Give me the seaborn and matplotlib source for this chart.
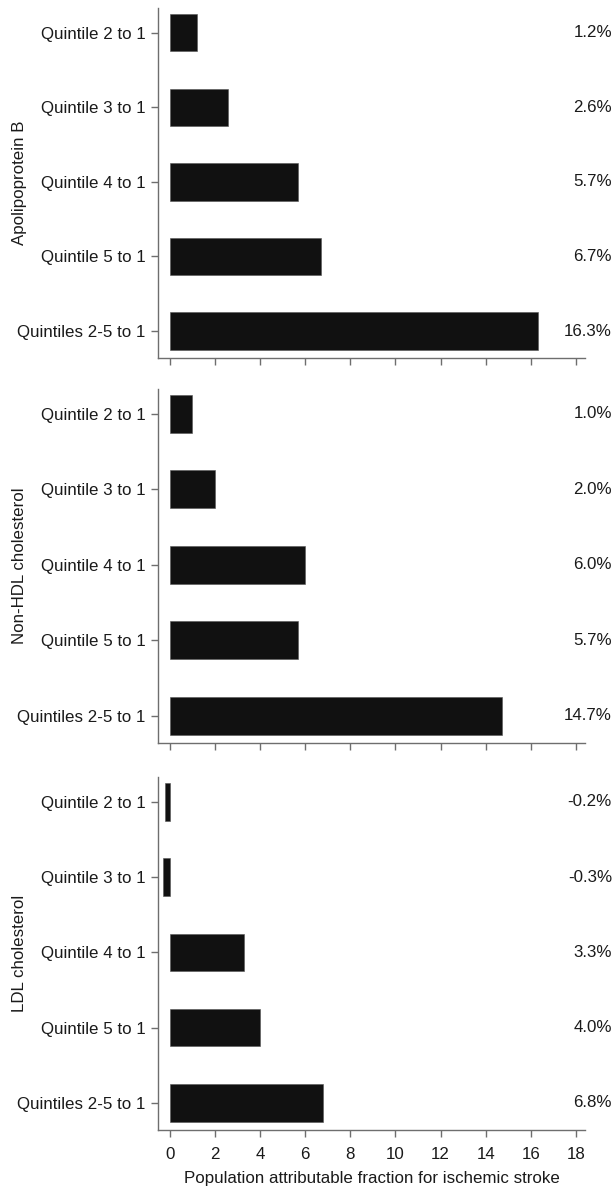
import matplotlib
matplotlib.use("Agg")
import matplotlib.pyplot as plt
import seaborn as sns
import pandas as pd

categories = ["Quintile 2 to 1", "Quintile 3 to 1", "Quintile 4 to 1",
              "Quintile 5 to 1", "Quintiles 2-5 to 1"]
apob_paf = [1.2, 2.6, 5.7, 6.7, 16.3]
nonhdl_paf = [1.0, 2.0, 6.0, 5.7, 14.7]
ldl_paf = [-0.2, -0.3, 3.3, 4.0, 6.8]
panel_names = ["Apolipoprotein B", "Non-HDL cholesterol", "LDL cholesterol"]
x_ticks = [0, 2, 4, 6, 8, 10, 12, 14, 16, 18]
x_title = "Population attributable fraction for ischemic stroke"

sns.set_theme(style="ticks")
plt.rcParams["font.family"] = ["Liberation Sans", "DejaVu Sans"]
plt.rcParams["text.color"] = "#1a1a1a"

fs = 12.2
fig = plt.figure(figsize=(6.16, 11.92), dpi=100)
left, right = 0.257, 0.950
panel_box = [(0.6997, 0.9933), (0.3767, 0.6737), (0.052, 0.3482)]

series = [apob_paf, nonhdl_paf, ldl_paf]
axes_line = "#6e6e6e"

for i, (name, vals, (bot, top)) in enumerate(zip(panel_names, series, panel_box)):
    ax = fig.add_axes([left, bot, right - left, top - bot])
    df = pd.DataFrame({"category": categories, "paf": vals})
    sns.barplot(data=df, x="paf", y="category", ax=ax, color="#111111",
                saturation=1, width=0.5, edgecolor="#555555", linewidth=0.4,
                orient="h")
    ax.set_xlim(-0.5, 18.4)
    ax.set_ylim(4.36, -0.33)
    ax.set_xticks(x_ticks)
    sns.despine(ax=ax)
    for side in ("left", "bottom"):
        ax.spines[side].set_color(axes_line)
        ax.spines[side].set_linewidth(1.0)
    ax.tick_params(axis="both", colors=axes_line, length=5, width=1.0,
                   labelcolor="#1a1a1a", labelsize=fs)
    ax.tick_params(axis="y", pad=4)
    ax.tick_params(axis="x", pad=7)
    ax.set_ylabel(name, fontsize=fs, color="#1a1a1a")
    ax.yaxis.set_label_coords(-0.308, 0.5)
    if i < 2:
        ax.set_xlabel("")
        ax.set_xticklabels([])
    else:
        ax.set_xlabel(x_title, fontsize=fs, color="#1a1a1a", labelpad=7)
    for yi, v in enumerate(vals):
        ax.text(1.0626, yi, f"{v:.1f}%", transform=ax.get_yaxis_transform(),
                ha="right", va="center", fontsize=fs, color="#1a1a1a")

fig.savefig("out.png", dpi=100, facecolor="white")
